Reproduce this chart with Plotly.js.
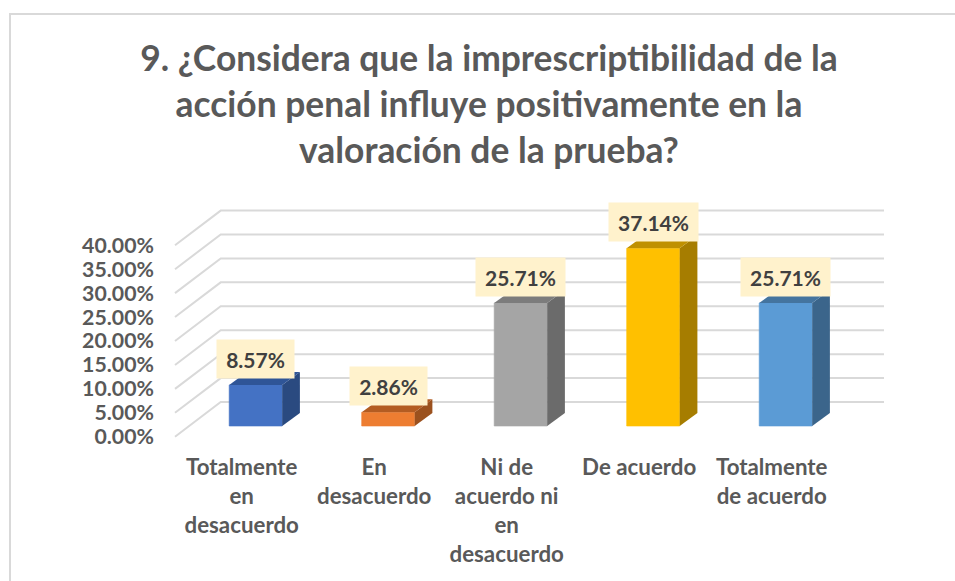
<!DOCTYPE html>
<html>
<head>
<meta charset="utf-8">
<script src="https://cdn.plot.ly/plotly-3.0.1.min.js"></script>
<style>html,body{margin:0;padding:0;background:#fff}#chart{width:955px;height:581px}</style>
</head>
<body>
<div id="chart"></div>
<script>
const titleLines = ["9. ¿Considera que la imprescriptibilidad de la", "acción penal influye positivamente en la", "valoración de la prueba?"];
const categoryLines = [
  ["Totalmente", "en", "desacuerdo"],
  ["En", "desacuerdo"],
  ["Ni de", "acuerdo ni", "en", "desacuerdo"],
  ["De acuerdo"],
  ["Totalmente", "de acuerdo"]
];
const values = [8.57, 2.86, 25.71, 37.14, 25.71];
const valueLabels = ["8.57%", "2.86%", "25.71%", "37.14%", "25.71%"];
const yTicks = [0, 5, 10, 15, 20, 25, 30, 35, 40];
const yTickLabels = ["0.00%", "5.00%", "10.00%", "15.00%", "20.00%", "25.00%", "30.00%", "35.00%", "40.00%"];
const frontColors = ["#4472c4", "#ed7d31", "#a5a5a5", "#ffc000", "#5b9bd5"];
const sideColors = ["#2a4a80", "#9b511e", "#6b6b6b", "#a67d00", "#3b658b"];
const topColors = ["#2f5597", "#b35c22", "#7c7c7c", "#bf9000", "#44749f"];

const W = 955, H = 581;
const FONT = "Lato, 'Open Sans', sans-serif";
// pixel frame of the axes
const pxLeft = 155, pxRight = 900, pxTop = 195, pxBottom = 452;
const unitX = 132.5, x0px = 255.7;   // px per category, px of category 0
const unitY = 4.785, y0px = 436.7;   // px per percent, px of 0 on the front wall edge
const xRange = [(pxLeft - x0px) / unitX, (pxRight - x0px) / unitX];
const yRange = [(y0px - pxBottom) / unitY, (y0px - pxTop) / unitY];
// depth of the floor/wall and of the bars, in axis units
const wallLeft = (175 - x0px) / unitX, wallBack = (220.7 - x0px) / unitX, wallRight = (884 - x0px) / unitX;
const wallRise = 34.7 / unitY;
const barBase = (y0px - 426) / unitY;
const barW = 53 / unitX, barDX = 17.7 / unitX, barDY = 13 / unitY;
const labelShift = -14 / unitX;      // category labels sit left of their bars, as 3D projection puts them

const shapes = [{
  type: "path", xref: "paper", yref: "paper", layer: "below",
  path: `M ${10/W} 0 L ${10/W} ${1-14/H} L 1 ${1-14/H}`,
  line: {color: "#d9d9d9", width: 2}
}];
yTicks.forEach(t => {
  shapes.push({
    type: "path", xref: "x", yref: "y", layer: "below",
    path: `M ${wallLeft} ${t} L ${wallBack} ${t + wallRise} L ${wallRight} ${t + wallRise}`,
    line: {color: "#d9d9d9", width: 2}
  });
});

const traces = [];
const idx = values.map((_, i) => i);
traces.push({
  type: "bar", x: idx, y: values, base: values.map(() => barBase), width: barW,
  marker: {color: frontColors, line: {color: frontColors.map(c => c + "99"), width: 1}},
  hoverinfo: "skip", showlegend: false
});
values.forEach((v, i) => {
  const r = i + barW / 2, l = i - barW / 2, top = barBase + v;
  traces.push({
    type: "scatter", mode: "lines", fill: "toself", fillcolor: sideColors[i], showlegend: false, hoverinfo: "skip",
    line: {width: 0, color: sideColors[i]},
    x: [r, r + barDX, r + barDX, r, r], y: [barBase, barBase + barDY, top + barDY, top, barBase]
  });
  traces.push({
    type: "scatter", mode: "lines", fill: "toself", fillcolor: topColors[i], showlegend: false, hoverinfo: "skip",
    line: {width: 0, color: topColors[i]},
    x: [l, r, r + barDX, l + barDX, l], y: [top, top, top + barDY, top + barDY, top]
  });
});

const annotations = values.map((v, i) => ({
  x: i, y: barBase + v, xref: "x", yref: "y", yshift: 26, xshift: 0,
  text: valueLabels[i], showarrow: false, bgcolor: "#fff2cc",
  width: 17 + 12 * valueLabels[i].length, height: 38, borderpad: 0, align: "center", valign: "middle",
  font: {family: FONT, size: 21, color: "#404040", weight: 700}
}));

const layout = {
  width: W, height: H, margin: {l: 0, r: 0, t: 0, b: 0, pad: 0},
  paper_bgcolor: "#fff", plot_bgcolor: "rgba(0,0,0,0)", showlegend: false, bargap: 0,
  title: {
    text: titleLines.join("<br>"), x: 489 / W, xanchor: "center", y: 1 - 71 / H, yanchor: "top",
    font: {family: FONT, size: 35.4, color: "#595959", weight: 700}
  },
  xaxis: {
    domain: [pxLeft / W, pxRight / W], range: xRange, showgrid: false, zeroline: false, showline: false,
    tickmode: "array", tickvals: idx.map(i => i + labelShift),
    ticktext: categoryLines.map(l => l.join("<br>")),
    ticks: "", tickangle: 0, automargin: false,
    tickfont: {family: FONT, size: 22.3, color: "#595959", weight: 700}
  },
  yaxis: {
    domain: [1 - pxBottom / H, 1 - pxTop / H], range: yRange, showgrid: false, zeroline: false, showline: false,
    tickmode: "array", tickvals: yTicks, ticktext: yTickLabels, ticks: "", automargin: false,
    tickfont: {family: FONT, size: 21.3, color: "#595959", weight: 700}
  },
  shapes, annotations
};
Plotly.newPlot("chart", traces, layout, {displayModeBar: false, staticPlot: true});
</script>
</body>
</html>
